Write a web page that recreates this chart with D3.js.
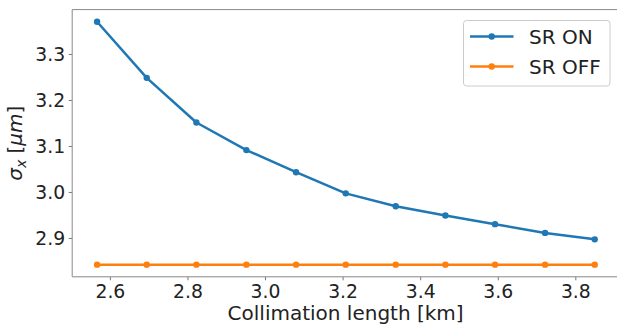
<!DOCTYPE html>
<html><head><meta charset="utf-8">
<script src="https://cdn.jsdelivr.net/npm/d3@7"></script>
<style>
html,body{margin:0;padding:0;background:#fff;}
svg{display:block;font-family:"DejaVu Sans",sans-serif;}
</style></head>
<body>
<svg id="chart" width="617" height="324"></svg>
<script>
const collimationLength = [2.567, 2.695, 2.823, 2.952, 3.080, 3.208, 3.337, 3.465, 3.593, 3.722, 3.850];
const srOn  = [3.370, 3.248, 3.151, 3.091, 3.043, 2.997, 2.969, 2.949, 2.930, 2.911, 2.897];
const srOff = [2.842, 2.842, 2.842, 2.842, 2.842, 2.842, 2.842, 2.842, 2.842, 2.842, 2.842];
const xTicks = [2.6, 2.8, 3.0, 3.2, 3.4, 3.6, 3.8];
const yTicks = [2.9, 3.0, 3.1, 3.2, 3.3];
const seriesNames = ["SR ON", "SR OFF"];
const seriesColors = ["#1f77b4", "#ff7f0e"];

const svg = d3.select("#chart");
const L = 72.2, R = 619.6, T = 9.6, B = 276.8;

const xMin = d3.min(collimationLength), xMax = d3.max(collimationLength);
const xPad = (xMax - xMin) * 0.05;
const allY = srOn.concat(srOff);
const yMin = d3.min(allY), yMax = d3.max(allY);
const yPad = (yMax - yMin) * 0.05;

const x = d3.scaleLinear().domain([xMin - xPad, xMax + xPad]).range([L, R]);
const y = d3.scaleLinear().domain([yMin - yPad, yMax + yPad]).range([B, T]);

// axes
const xAxis = svg.append("g").attr("transform", `translate(0,${B})`)
  .call(d3.axisBottom(x).tickValues(xTicks).tickFormat(d3.format(".1f")).tickSizeOuter(0).tickSize(3.5).tickPadding(3.5));
const yAxis = svg.append("g").attr("transform", `translate(${L},0)`)
  .call(d3.axisLeft(y).tickValues(yTicks).tickFormat(d3.format(".1f")).tickSizeOuter(0).tickSize(3.5).tickPadding(3.5));
[xAxis, yAxis].forEach(g => {
  g.select(".domain").remove();
  g.selectAll(".tick line").attr("stroke", "#555").attr("stroke-width", 0.8);
  g.selectAll(".tick text").attr("fill", "#222").style("font-size", "18.8px").style("font-family", "DejaVu Sans");
});
xAxis.selectAll(".tick text").attr("dy", "14.2px");
yAxis.selectAll(".tick text").attr("dy", "0.36em");

// spines
svg.append("line").attr("x1", L).attr("x2", L).attr("y1", T).attr("y2", B).attr("stroke", "#888").attr("stroke-width", 1);
svg.append("line").attr("x1", L).attr("x2", R).attr("y1", B).attr("y2", B).attr("stroke", "#888").attr("stroke-width", 1);
svg.append("line").attr("x1", L).attr("x2", R).attr("y1", T).attr("y2", T).attr("stroke", "#888").attr("stroke-width", 1);
svg.append("line").attr("x1", R).attr("x2", R).attr("y1", T).attr("y2", B).attr("stroke", "#888").attr("stroke-width", 1);

// series
const series = [srOn, srOff];
const line = d3.line().x((d, i) => x(collimationLength[i])).y(d => y(d));
series.forEach((s, k) => {
  svg.append("path").datum(s).attr("d", line).attr("fill", "none")
    .attr("stroke", seriesColors[k]).attr("stroke-width", 2.5).attr("stroke-linejoin", "round");
  svg.append("g").selectAll("circle").data(s).join("circle")
    .attr("cx", (d, i) => x(collimationLength[i])).attr("cy", d => y(d)).attr("r", 3.2)
    .attr("fill", seriesColors[k]);
});

// axis labels
svg.append("text").attr("x", (L + 617) / 2 + 1).attr("y", 319.8).attr("text-anchor", "middle")
  .style("font-size", "20px").attr("fill", "#222").text("Collimation length [km]");

const yl = svg.append("text").attr("transform", `translate(22,${(T + B) / 2}) rotate(-90)`)
  .attr("text-anchor", "middle").style("font-size", "20px").attr("fill", "#222");
yl.append("tspan").style("font-style", "italic").text("σ");
yl.append("tspan").style("font-style", "italic").style("font-size", "14px").attr("dy", 4).text("x");
yl.append("tspan").attr("dy", -4).text(" [");
yl.append("tspan").style("font-style", "italic").text("μm");
yl.append("tspan").text("]");

// legend
const lg = svg.append("g");
lg.append("rect").attr("x", 463.5).attr("y", 20.5).attr("width", 146.5).attr("height", 65.5)
  .attr("rx", 3).attr("fill", "#fff").attr("fill-opacity", 0.8).attr("stroke", "#ccc").attr("stroke-width", 1);
seriesNames.forEach((n, k) => {
  const yy = 36.5 + k * 30;
  lg.append("line").attr("x1", 470).attr("x2", 513.5).attr("y1", yy).attr("y2", yy)
    .attr("stroke", seriesColors[k]).attr("stroke-width", 2.5);
  lg.append("circle").attr("cx", 491.7).attr("cy", yy).attr("r", 3.2).attr("fill", seriesColors[k]);
  lg.append("text").attr("x", 529).attr("y", yy).attr("dy", "0.36em").style("font-size", "20px")
    .attr("fill", "#222").text(n);
});
</script>
</body></html>
